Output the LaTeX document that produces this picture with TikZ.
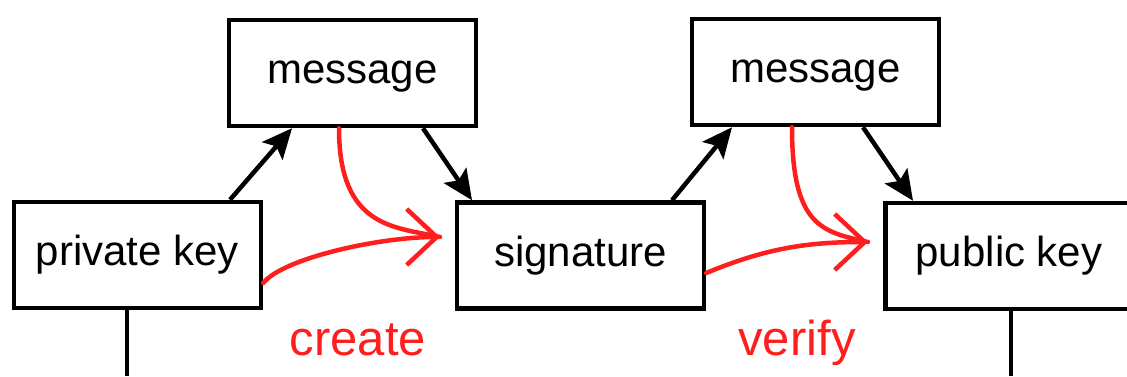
\documentclass[tikz,border=0pt]{standalone}
\usepackage{fontspec}
\setmainfont{Liberation Sans}
\usepackage{xcolor}
\usepackage{tikz}
\usetikzlibrary{calc,arrows.meta}
\definecolor{ink}{HTML}{000000}
\definecolor{pen}{HTML}{FF1E1E}
\tikzset{
  box/.style={draw=ink, line width=4.5pt, minimum width=247pt, minimum height=106pt,
    inner sep=0pt, font=\fontsize{42pt}{48pt}\selectfont, text height=29pt, text depth=8pt},
  link/.style={draw=ink, line width=4.5pt, -{Stealth[length=30pt, width=27pt, inset=6pt]}},
  stem/.style={draw=ink, line width=4pt},
  sketch/.style={draw=pen, line width=4.5pt, line cap=round},
  sketchtip/.style={sketch, -{Straight Barb[length=30pt, width=56pt, line width=4.5pt]}},
  lab/.style={text=pen, font=\fontsize{49pt}{56pt}\selectfont, anchor=base},
}

\begin{document}
\begin{tikzpicture}[x=1pt, y=1pt]
\useasboundingbox (0,0) rectangle (1127,376);

\node[box] (msgA) at (352.5,303) {message};
\node[box] (msgB) at (815.5,304) {message};
\node[box] (priv) at (137.5,121) {private key};
\node[box] (sig)  at (580.5,120.5) {signature};
\node[box] (pub)  at (1009,120) {public key};

% black links
\draw[link] ([xshift=92.5pt]priv.north) -- ([xshift=-60.5pt]msgA.south);
\draw[link] ([xshift=70.5pt]msgA.south) -- ([xshift=-108.5pt]sig.north);
\draw[link] ([xshift=91.5pt]sig.north) -- ([xshift=-83.5pt]msgB.south);
\draw[link] ([xshift=47.5pt]msgB.south) -- ([xshift=-96pt]pub.north);

\coordinate (privEnd) at (127,0);
\coordinate (pubEnd) at (1011,0);
\draw[stem] ([xshift=-10.5pt]priv.south) -- (privEnd);
\draw[stem] ([xshift=2pt]pub.south) -- (pubEnd);

% red strokes
\coordinate (tipA) at (440,139);
\coordinate (tipB) at (868,134);
\draw[sketch] ([xshift=-13.5pt]msgA.south) .. controls +(0,-100) and +(-45,10) .. (tipA);
\draw[sketchtip] ([yshift=-28pt]priv.east) .. controls +(20,25) and +(-60,0) .. (tipA);
\draw[sketch] ([xshift=-23.5pt]msgB.south) .. controls +(0,-100) and +(-45,10) .. (tipB);
\draw[sketchtip] ([yshift=-17.5pt]sig.east) .. controls +(60,25) and +(-60,0) .. (tipB);

\node[lab] (create) at (358,21) {create};
\node[lab] (verify) at (797,21) {verify};
\end{tikzpicture}
\end{document}
